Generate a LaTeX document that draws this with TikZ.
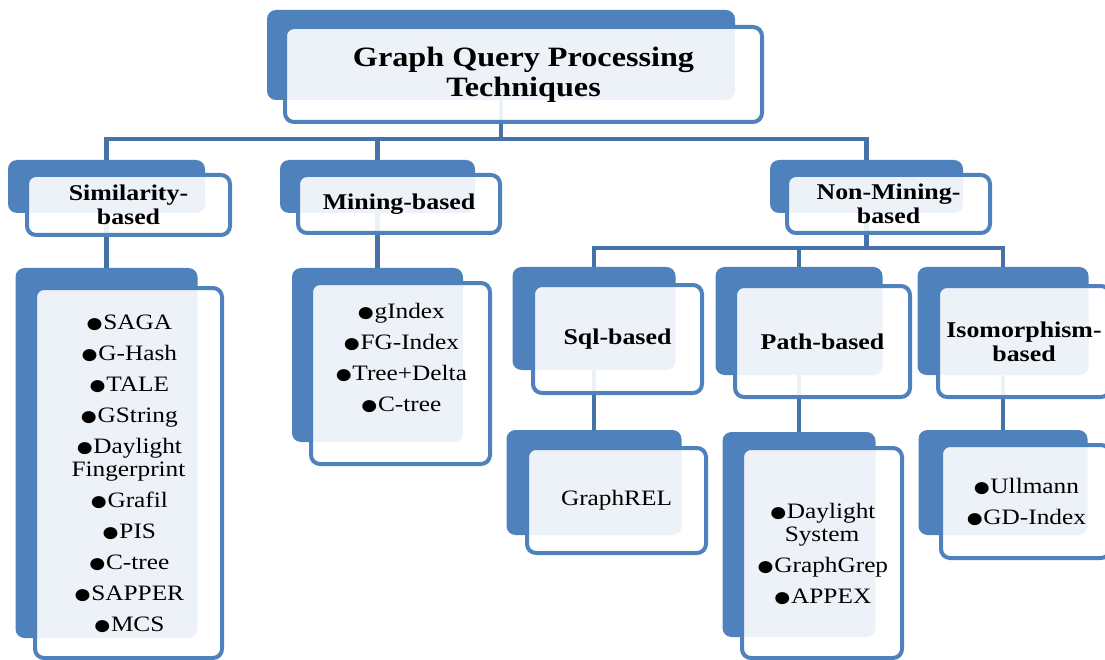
\documentclass[tikz,border=0pt]{standalone}
\usepackage{fontspec}
\setmainfont{Liberation Serif}[FakeStretch=1.15]
\usetikzlibrary{backgrounds}
\definecolor{boxblue}{RGB}{79,129,189}
\definecolor{lineblue}{RGB}{69,114,167}
\newcommand{\bul}{\raisebox{-3pt}[0pt][0pt]{\fontsize{28}{23}\selectfont ●}\kern-1pt}

\begin{document}
\begin{tikzpicture}[x=1pt, y=-1pt,
    backbox/.style={rectangle, rounded corners=9pt, fill=boxblue, inner sep=0pt},
    frontbox/.style={rectangle, rounded corners=9pt, draw=boxblue, line width=4pt,
                     fill=white, fill opacity=0.9, inner sep=0pt},
    headtext/.style={font=\bfseries\fontsize{22.5}{24}\selectfont, align=center},
    itemtext/.style={font=\fontsize{22}{23}\selectfont, align=center},
    conn/.style={draw=lineblue, line width=4.5pt}]

    \clip (0,0) rectangle (1105,660);

    % root
    \node[backbox,
          minimum width = 468pt,
          minimum height = 90pt
          ] (gqp) at (501,55) {};
    \node[frontbox,
          minimum width = 477pt,
          minimum height = 95pt
          ] (gqpf) at (523.5,74.5) {};
    \node[font=\bfseries\fontsize{28}{30}\selectfont, align=center] (gqpt) at (gqpf.center)
        {Graph Query Processing\\Techniques};

    % first level
    \node[backbox,
          minimum width = 197pt,
          minimum height = 53pt
          ] (sim) at (106.5,186.5) {};
    \node[frontbox,
          minimum width = 203pt,
          minimum height = 60pt
          ] (simf) at (128.5,205) {};
    \node[headtext] (simt) at (simf.center) {Similarity-\\based};

    \node[backbox,
          minimum width = 195pt,
          minimum height = 53pt
          ] (mine) at (377.5,186.5) {};
    \node[frontbox,
          minimum width = 202pt,
          minimum height = 58pt
          ] (minef) at (399,204) {};
    \node[headtext] (minet) at (minef.center) {Mining-based};

    \node[backbox,
          minimum width = 193pt,
          minimum height = 53pt
          ] (nonmine) at (866.5,186.5) {};
    \node[frontbox,
          minimum width = 203pt,
          minimum height = 58pt
          ] (nonminef) at (888.5,204) {};
    \node[headtext] (nonminet) at (nonminef.center) {Non-Mining-\\based};

    % lists under similarity and mining
    \node[backbox,
          minimum width = 182pt,
          minimum height = 370pt
          ] (simlist) at (106.5,453) {};
    \node[frontbox,
          minimum width = 187pt,
          minimum height = 370pt
          ] (simlistf) at (128.5,473) {};
    \node[itemtext] (simlistt) at (simlistf.center)
        {\bul SAGA\\[8pt] \bul G-Hash\\[8pt] \bul TALE\\[8pt] \bul GString\\[8pt] \bul Daylight\\Fingerprint\\[8pt]
         \bul Grafil\\[8pt] \bul PIS\\[8pt] \bul C-tree\\[8pt] \bul SAPPER\\[8pt] \bul MCS};

    \node[backbox,
          minimum width = 171pt,
          minimum height = 174pt
          ] (minelist) at (377.5,355) {};
    \node[frontbox,
          minimum width = 179pt,
          minimum height = 181pt
          ] (minelistf) at (400.5,373.5) {};
    \node[itemtext, yshift=16pt] (minelistt) at (minelistf.center)
        {\bul gIndex\\[8pt] \bul FG-Index\\[8pt] \bul Tree+Delta\\[8pt] \bul C-tree};

    % second level under non-mining
    \node[backbox,
          minimum width = 163pt,
          minimum height = 103pt
          ] (sql) at (594,318.5) {};
    \node[frontbox,
          minimum width = 169pt,
          minimum height = 108pt
          ] (sqlf) at (617.5,339) {};
    \node[headtext] (sqlt) at (sqlf.center) {Sql-based};

    \node[backbox,
          minimum width = 167pt,
          minimum height = 108pt
          ] (path) at (799,321) {};
    \node[frontbox,
          minimum width = 175pt,
          minimum height = 111pt
          ] (pathf) at (822.5,341.5) {};
    \node[headtext] (patht) at (pathf.center) {Path-based};

    \node[backbox,
          minimum width = 171pt,
          minimum height = 108pt
          ] (iso) at (1003,321) {};
    \node[frontbox,
          minimum width = 172pt,
          minimum height = 111pt
          ] (isof) at (1024,341.5) {};
    \node[headtext] (isot) at (isof.center) {Isomorphism-\\based};

    % leaves
    \node[backbox,
          minimum width = 175pt,
          minimum height = 105pt
          ] (rel) at (594,482.5) {};
    \node[frontbox,
          minimum width = 179pt,
          minimum height = 105pt
          ] (relf) at (616.5,500.5) {};
    \node[itemtext] (relt) at (relf.center) {GraphREL};

    \node[backbox,
          minimum width = 153pt,
          minimum height = 205pt
          ] (pathlist) at (799,534.5) {};
    \node[frontbox,
          minimum width = 160pt,
          minimum height = 210pt
          ] (pathlistf) at (822,553) {};
    \node[itemtext] (pathlistt) at (pathlistf.center)
        {\bul Daylight\\System\\[8pt] \bul GraphGrep\\[8pt] \bul APPEX};

    \node[backbox,
          minimum width = 169pt,
          minimum height = 105pt
          ] (isolist) at (1003,482.5) {};
    \node[frontbox,
          minimum width = 169pt,
          minimum height = 113pt
          ] (isolistf) at (1025.5,501.5) {};
    \node[itemtext] (isolistt) at (isolistf.center)
        {\bul Ullmann\\[8pt] \bul GD-Index};

    \coordinate (bus1) at (501,139);
    \coordinate (bus2) at (866.5,248);

    \begin{pgfonlayer}{background}
    \path[conn]
    %root to first level
    (gqp.south) -- (bus1) -| (sim.north)
    (bus1) -| (mine.north)
    (bus1) -| (nonmine.north)
    %non-mining to second level
    (nonmine.south) -- (bus2) -| (sql.north)
    (bus2) -| (path.north)
    (bus2) -| (iso.north)
    %down to the lists
    (sim.south) -- (simlist.north)
    (mine.south) -- (minelist.north)
    (sql.south) -- (rel.north)
    (path.south) -- (pathlist.north)
    (iso.south) -- (isolist.north);
    \end{pgfonlayer}

\end{tikzpicture}
\end{document}
